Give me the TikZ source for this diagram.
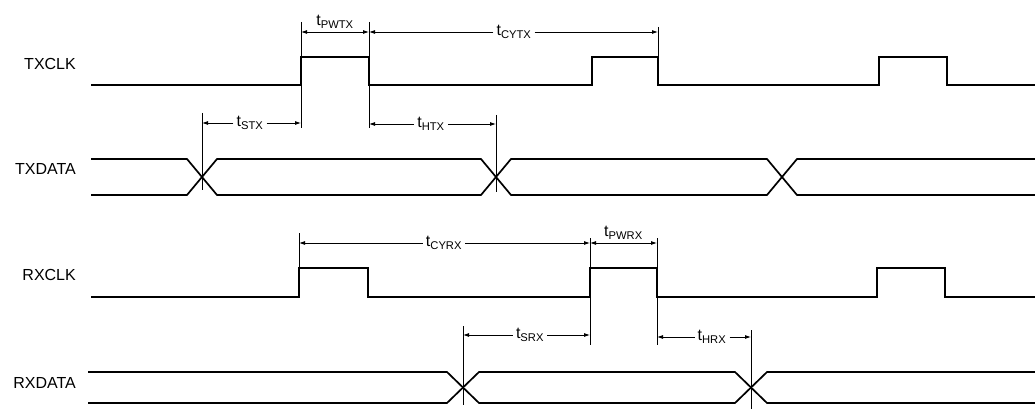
\documentclass[tikz,border=0pt]{standalone}
\usepackage{fontspec}
\setmainfont{Liberation Sans}
\usetikzlibrary{arrows.meta}

\begin{document}
\begin{tikzpicture}[x=1pt, y=-1pt, font=\fontsize{16}{18}\selectfont,
    sig/.style={line width=1.7pt},
    ext/.style={line width=0.8pt},
    dim/.style={line width=0.8pt, -{Latex[length=6pt, width=4pt]}}]

    \useasboundingbox (0,0) rectangle (1035,409);

    % draw signal names
    \foreach \y/\t/\n in {64/TXCLK/txclk, 169/TXDATA/txdata, 275/RXCLK/rxclk, 383/RXDATA/rxdata}
        \node [anchor=east, inner sep=0pt]
            (\n) at (76,\y) {\t};

    % draw clocks
    \draw[sig] (91,85) -| (301,57) -| (369,85) -| (592,57) -| (658,85) -| (879,57) -| (947,85) -- (1035,85);
    \draw[sig] (91,297) -| (299,268) -| (368,297) -| (590,268) -| (657,297) -| (877,268) -| (945,297) -- (1035,297);

    % draw data buses
    \draw[sig] (91,159) -- (187,159) -- (217,195) -- (481,195) -- (511,159) -- (767,159) -- (797,195) -- (1035,195);
    \draw[sig] (91,195) -- (187,195) -- (217,159) -- (481,159) -- (511,195) -- (767,195) -- (797,159) -- (1035,159);
    \draw[sig] (88,372) -- (447,372) -- (479,403) -- (735,403) -- (767,372) -- (1035,372);
    \draw[sig] (88,403) -- (447,403) -- (479,372) -- (735,372) -- (767,403) -- (1035,403);

    % draw extension lines
    \foreach \x/\a/\b in {301/22/128, 369/22/128, 658/27/57, 202/113/190, 496/115/192,
                          299/233/268, 590/238/345, 657/238/345, 463/326/405, 751/330/409}
        \draw[ext] (\x,\a) -- (\x,\b);

    % draw timing labels on the lines
    \foreach \n/\t/\l/\r/\y/\c in {cytx/CYTX/369/658/32/514, stx/STX/202/301/123/250,
                                   htx/HTX/369/496/124/431, cyrx/CYRX/299/590/243/444,
                                   srx/SRX/463/590/335/530, hrx/HRX/657/751/337/712} {
        \coordinate (\n l) at (\l,\y);
        \coordinate (\n r) at (\r,\y);
        \node [inner sep=3pt] (t\n) at (\c,\y) {t\textsubscript{\t}};
        \draw[dim] (t\n) -- (\n l);
        \draw[dim] (t\n) -- (\n r);
    }

    % draw pulse widths
    \foreach \n/\t/\l/\r/\y in {pwtx/PWTX/301/369/32, pwrx/PWRX/590/657/243} {
        \coordinate (\n l) at (\l,\y);
        \coordinate (\n r) at (\r,\y);
        \draw[dim, {Latex[length=6pt, width=4pt]}-{Latex[length=6pt, width=4pt]}] (\n l) -- (\n r)
            node [midway, above=0pt] (t\n) {t\textsubscript{\t}};
    }

\end{tikzpicture}
\end{document}
